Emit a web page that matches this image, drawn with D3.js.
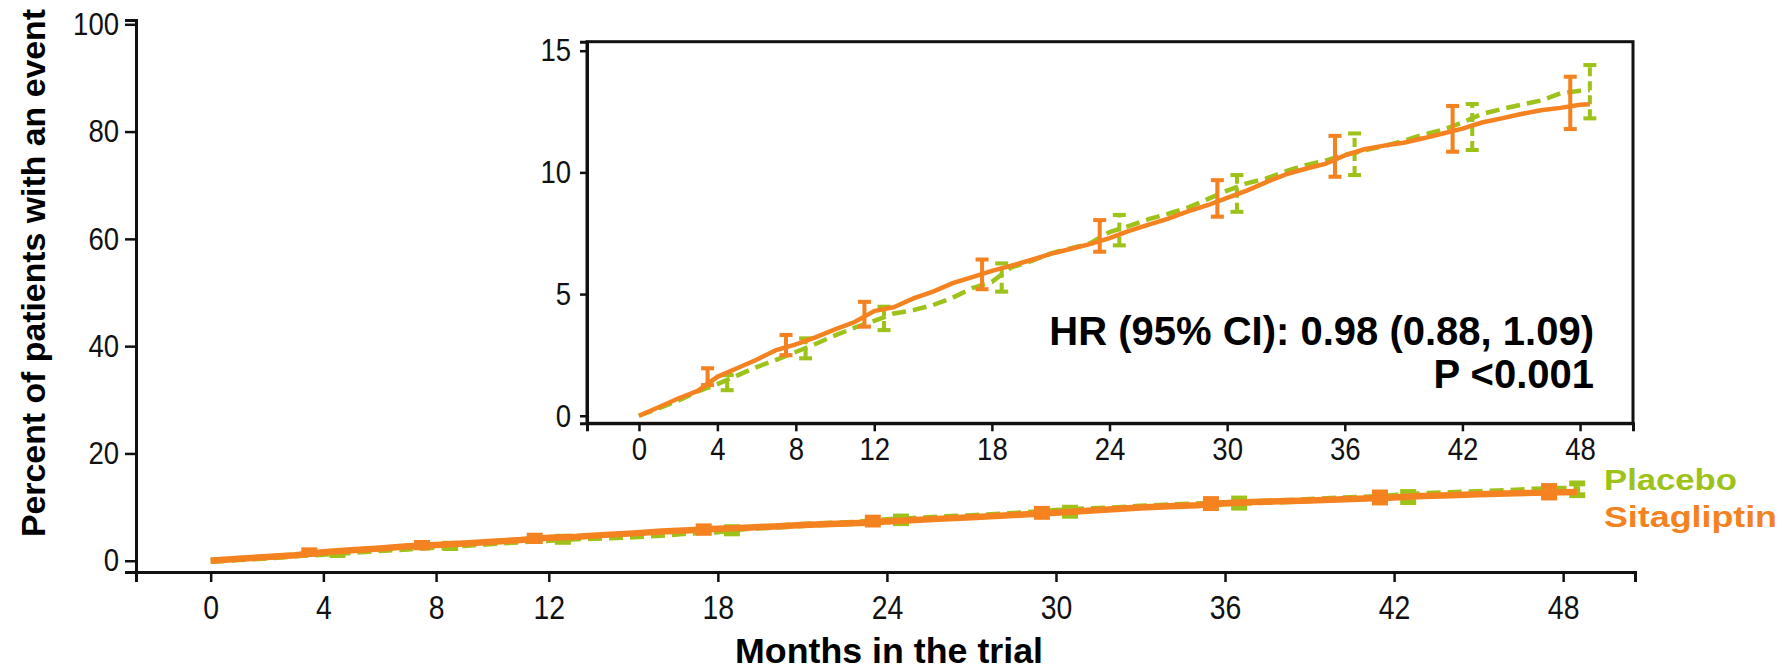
<!DOCTYPE html>
<html>
<head>
<meta charset="utf-8">
<script src="https://cdn.jsdelivr.net/npm/d3@7"></script>
<style>
  body { margin: 0; background: #fff; }
  svg { display: block; font-family: "Liberation Sans", Arial, sans-serif; }
</style>
</head>
<body>
<svg id="chart"></svg>
<script>
const months = [0,1,2,3,4,5,6,7,8,9,10,11,12,13,14,15,16,17,18,19,20,21,22,23,24,
  25,26,27,28,29,30,31,32,33,34,35,36,37,38,39,40,41,42,43,44,45,46,47,48,48.5];

// cumulative percent with an event
const sitagliptin = [0,0.35,0.71,1.02,1.6,1.95,2.3,2.7,2.93,3.22,3.55,3.85,4.3,4.46,4.82,5.1,5.45,5.7,5.95,
  6.17,6.4,6.65,6.85,7.05,7.3,7.6,7.85,8.1,8.4,8.65,8.95,9.25,9.6,9.92,10.15,10.35,10.7,10.95,11.1,11.22,
  11.4,11.6,11.8,12.05,12.22,12.4,12.55,12.65,12.78,12.8];
const placebo = [0,0.3,0.62,1.0,1.3,1.65,2.0,2.3,2.62,2.95,3.3,3.62,3.9,4.2,4.34,4.55,4.85,5.25,5.5,
  6.1,6.35,6.67,6.88,7.08,7.55,7.8,8.08,8.3,8.55,8.9,9.25,9.55,9.75,10.05,10.3,10.48,10.72,10.9,11.08,11.3,
  11.55,11.75,12.05,12.4,12.6,12.78,12.95,13.25,13.35,13.38];

// 95% CI bars
const sitaBarMonths = [3.5,7.5,11.5,17.5,23.5,29.5,35.5,41.5,47.5];
const sitaLow  = [1.26,2.49,3.66,5.2,6.74,8.18,9.82,10.85,11.78];
const sitaHigh = [1.95,3.32,4.68,6.42,8.04,9.68,11.5,12.73,13.93];
const placBarMonths = [4.5,8.5,12.5,18.5,24.5,30.5,36.5,42.5,48.5];
const placLow  = [1.05,2.36,3.52,5.1,7.0,8.38,9.89,10.92,12.22];
const placHigh = [1.67,3.18,4.48,6.26,8.25,9.89,11.6,12.81,14.41];

const xTicks = [0,4,8,12,18,24,30,36,42,48];
const yTicksMain = [0,20,40,60,80,100];
const yTicksInset = [0,5,10,15];

const orange = "#f58220";
const green = "#9dc31a";

const W = 1792, H = 669;
const svg = d3.select("#chart").attr("width", W).attr("height", H);

// tick labels in the original are a bit taller and narrower than plain Arial
function styleAxis(g, domainW, tickW, fs) {
  g.select(".domain").attr("stroke", "#111").attr("stroke-width", domainW);
  g.selectAll(".tick line").attr("stroke", "#111").attr("stroke-width", tickW);
  g.selectAll(".tick text").attr("fill", "#111").style("font-size", fs + "px")
    .each(function() {
      const w = this.getComputedTextLength();
      d3.select(this).attr("textLength", w * 0.86).attr("lengthAdjust", "spacingAndGlyphs");
    });
}

function drawSeries(g, x, y, vals, barM, lo, hi, color, dashed, lw, capW) {
  const line = d3.line().x((d, i) => x(months[i])).y(d => y(d));
  g.append("path")
    .datum(vals)
    .attr("d", line)
    .attr("fill", "none")
    .attr("stroke", color)
    .attr("stroke-width", lw)
    .attr("stroke-dasharray", dashed ? "14,7" : null);

  const bars = g.append("g").selectAll("g").data(barM).enter().append("g");
  bars.append("line")
    .attr("x1", d => x(d)).attr("x2", d => x(d))
    .attr("y1", (d, i) => y(lo[i])).attr("y2", (d, i) => y(hi[i]))
    .attr("stroke", color).attr("stroke-width", lw * 0.9)
    .attr("stroke-dasharray", dashed ? "9,5" : null);
  [lo, hi].forEach(arr => {
    bars.append("line")
      .attr("x1", d => x(d) - capW / 2).attr("x2", d => x(d) + capW / 2)
      .attr("y1", (d, i) => y(arr[i])).attr("y2", (d, i) => y(arr[i]))
      .attr("stroke", color).attr("stroke-width", lw * 0.9);
  });
}

// ---------- main chart ----------
const x = d3.scaleLinear().domain([-2.65, 50.55]).range([136, 1635]);
const y = d3.scaleLinear().domain([-2.1, 100.8]).range([572, 20]);

const main = svg.append("g");

main.append("g")
  .attr("transform", "translate(0,572)")
  .call(d3.axisBottom(x).tickValues(xTicks).tickSizeOuter(0).tickSize(10).tickPadding(14))
  .call(g => styleAxis(g, 3, 2.5, 33));

main.append("g")
  .attr("transform", "translate(136,0)")
  .call(d3.axisLeft(y).tickValues(yTicksMain).tickSizeOuter(0).tickSize(11).tickPadding(6))
  .call(g => styleAxis(g, 3, 2.5, 32));

drawSeries(main, x, y, placebo, placBarMonths, placLow, placHigh, green, true, 6.5, 16);
drawSeries(main, x, y, sitagliptin, sitaBarMonths, sitaLow, sitaHigh, orange, false, 6.5, 16);

main.append("text")
  .attr("x", 889).attr("y", 663)
  .attr("text-anchor", "middle")
  .attr("font-weight", "bold")
  .style("font-size", "35px")
  .attr("textLength", 308).attr("lengthAdjust", "spacingAndGlyphs")
  .text("Months in the trial");

main.append("text")
  .attr("transform", "translate(45,273) rotate(-90)")
  .attr("text-anchor", "middle")
  .attr("font-weight", "bold")
  .style("font-size", "34px")
  .attr("textLength", 528).attr("lengthAdjust", "spacingAndGlyphs")
  .text("Percent of patients with an event");

// legend
main.append("text")
  .attr("x", 1604).attr("y", 490)
  .attr("font-weight", "bold").style("font-size", "30px")
  .attr("fill", green)
  .attr("textLength", 133).attr("lengthAdjust", "spacingAndGlyphs")
  .text("Placebo");
main.append("text")
  .attr("x", 1604).attr("y", 527)
  .attr("font-weight", "bold").style("font-size", "30px")
  .attr("fill", orange)
  .attr("textLength", 173).attr("lengthAdjust", "spacingAndGlyphs")
  .text("Sitagliptin");

// ---------- inset ----------
const xi = d3.scaleLinear().domain([-2.65, 50.7]).range([587, 1633]);
const yi = d3.scaleLinear().domain([-0.31, 15.37]).range([423.3, 41.7]);

const inset = svg.append("g");
inset.append("rect")
  .attr("x", 587).attr("y", 41.7)
  .attr("width", 1633 - 587).attr("height", 423.3 - 41.7)
  .attr("fill", "#fff").attr("stroke", "#111").attr("stroke-width", 3);

inset.append("g")
  .attr("transform", "translate(0,423.3)")
  .call(d3.axisBottom(xi).tickValues(xTicks).tickSizeOuter(0).tickSize(8).tickPadding(6))
  .call(g => styleAxis(g, 3, 2.5, 32));

inset.append("g")
  .attr("transform", "translate(587,0)")
  .call(d3.axisLeft(yi).tickValues(yTicksInset).tickSizeOuter(0).tickSize(7).tickPadding(9))
  .call(g => styleAxis(g, 3, 2.5, 32));

drawSeries(inset, xi, yi, placebo, placBarMonths, placLow, placHigh, green, true, 4.5, 13);
drawSeries(inset, xi, yi, sitagliptin, sitaBarMonths, sitaLow, sitaHigh, orange, false, 4.5, 13);

inset.append("text")
  .attr("x", 1594).attr("y", 345)
  .attr("text-anchor", "end")
  .attr("font-weight", "bold").style("font-size", "40px")
  .text("HR (95% CI): 0.98 (0.88, 1.09)");
inset.append("text")
  .attr("x", 1594).attr("y", 388)
  .attr("text-anchor", "end")
  .attr("font-weight", "bold").style("font-size", "40px")
  .text("P <0.001");
</script>
</body>
</html>
